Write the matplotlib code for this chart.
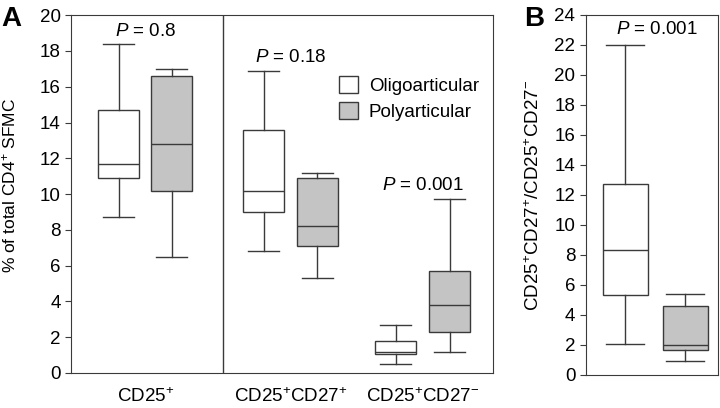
import matplotlib
matplotlib.use('Agg')
import matplotlib.pyplot as plt
from matplotlib.patches import Patch

plt.rcParams['font.family'] = ['Liberation Sans', 'DejaVu Sans']
plt.rcParams['mathtext.fontset'] = 'custom'
plt.rcParams['mathtext.rm'] = 'Liberation Sans'
plt.rcParams['mathtext.it'] = 'Liberation Sans:italic'
plt.rcParams['mathtext.default'] = 'regular'

# panel A: box statistics (oligo, poly) per cell subset
groups_a = ['CD25$^{+}$', 'CD25$^{+}$CD27$^{+}$', 'CD25$^{+}$CD27$^{-}$']
whislo_a = [8.7, 6.5, 6.8, 5.3, 0.5, 1.2]
q1_a = [10.9, 10.2, 9.0, 7.1, 1.05, 2.3]
med_a = [11.7, 12.8, 10.2, 8.2, 1.2, 3.8]
q3_a = [14.7, 16.6, 13.6, 10.9, 1.8, 5.7]
whishi_a = [18.4, 17.0, 16.9, 11.2, 2.7, 9.7]
pvals_a = ['0.8', '0.18', '0.001']
ptext_y_a = [19.1, 17.65, 10.5]

# panel B: ratio CD27+/CD27-
whislo_b = [2.05, 0.93]
q1_b = [5.3, 1.67]
med_b = [8.3, 2.0]
q3_b = [12.75, 4.6]
whishi_b = [22.0, 5.4]
pval_b = '0.001'

fills = ['white', '#c4c4c4']
edge = '#3a3a3a'
fs = 13.5


def stats(lo, a, m, b, hi):
    return [dict(whislo=w0, q1=x1, med=x2, q3=x3, whishi=w1, fliers=[])
            for w0, x1, x2, x3, w1 in zip(lo, a, m, b, hi)]


def draw(ax, st, pos, width, capw):
    bp = ax.bxp(st, positions=pos, widths=width, patch_artist=True,
                showfliers=False, capwidths=capw, manage_ticks=False,
                boxprops=dict(edgecolor=edge, linewidth=1.0),
                medianprops=dict(color=edge, linewidth=1.0),
                whiskerprops=dict(color=edge, linewidth=1.0),
                capprops=dict(color=edge, linewidth=1.0))
    for i, b in enumerate(bp['boxes']):
        b.set_facecolor(fills[i % 2])


fig = plt.figure(figsize=(7.2, 4.08), dpi=100)

axA = fig.add_axes([0.0986, 0.0858, 0.586, 0.877])
pos_a = [0.48, 1.01, 1.93, 2.465, 3.25, 3.79]
draw(axA, stats(whislo_a, q1_a, med_a, q3_a, whishi_a), pos_a, 0.41, 0.31)
axA.set_xlim(0, 4.22)
axA.set_ylim(0, 20)
axA.set_yticks(range(0, 21, 2))
centers = [(pos_a[2 * i] + pos_a[2 * i + 1]) / 2 for i in range(3)]
axA.set_xticks(centers)
axA.set_xticklabels(groups_a, fontsize=fs)
axA.tick_params(axis='x', length=0, pad=10)
axA.tick_params(axis='y', labelsize=fs, direction='out', length=4, color=edge)
axA.axvline(1.517, color=edge, linewidth=1.0)
for c, p, y in zip(centers, pvals_a, ptext_y_a):
    axA.text(c, y, '$\\it{P}$ = ' + p, ha='center', va='center', fontsize=fs)
axA.set_ylabel('% of total CD4$^{+}$ SFMC', fontsize=12.5)
axA.yaxis.set_label_coords(-0.125, 0.524)
for s in axA.spines.values():
    s.set_color(edge)
handles = [Patch(facecolor=fills[0], edgecolor=edge, label='Oligoarticular'),
           Patch(facecolor=fills[1], edgecolor=edge, label='Polyarticular')]
axA.legend(handles=handles, loc='upper left', bbox_to_anchor=(0.635, 0.83),
           frameon=False, fontsize=fs, handlelength=1.0, handleheight=1.0,
           labelspacing=0.4, handletextpad=0.6, borderpad=0, borderaxespad=0)

axB = fig.add_axes([0.8135, 0.0809, 0.1838, 0.8824])
draw(axB, stats(whislo_b, q1_b, med_b, q3_b, whishi_b), [0.393, 0.993], 0.45, 0.38)
axB.set_xlim(0, 1.323)
axB.set_ylim(0, 24)
axB.set_yticks(range(0, 25, 2))
axB.set_xticks([])
axB.tick_params(axis='y', labelsize=fs, direction='out', length=4, color=edge)
axB.text(0.71, 23.0, '$\\it{P}$ = ' + pval_b, ha='center', va='center', fontsize=fs)
axB.set_ylabel('CD25$^{+}$CD27$^{+}$/CD25$^{+}$CD27$^{-}$', fontsize=fs)
axB.yaxis.set_label_coords(-0.325, 0.5)
for s in axB.spines.values():
    s.set_color(edge)

fig.text(0.002, 0.985, 'A', fontsize=20, fontweight='bold', va='top', ha='left')
fig.text(0.728, 0.985, 'B', fontsize=20, fontweight='bold', va='top', ha='left')

fig.savefig('out.png', dpi=100)
